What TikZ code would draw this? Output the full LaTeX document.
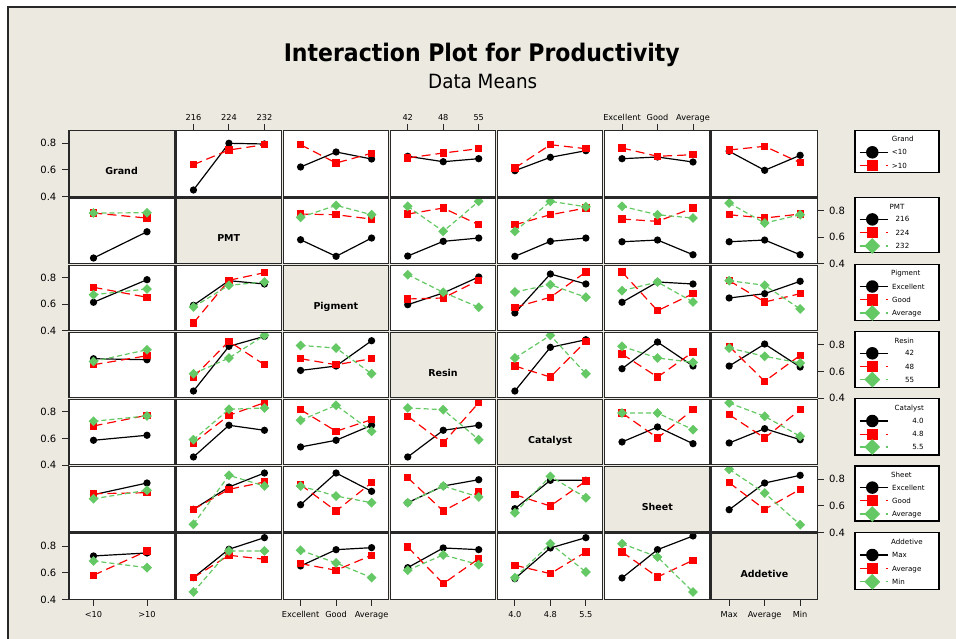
\documentclass[tikz,border=0pt]{standalone}
\usepackage{graphicx}
\usepackage{fontspec}
\setmainfont{DejaVu Sans}
\usetikzlibrary{shapes.geometric}
\definecolor{bg}{RGB}{236,233,224}
\definecolor{mred}{RGB}{255,0,0}
\definecolor{mgreen}{RGB}{100,200,100}
\definecolor{frm}{RGB}{40,40,40}

% one data series of one panel: #1 row, #2 col, #3 tag (b/r/g), #4 y offsets
\newcommand\DrawSer[4]{%
  \pgfmathsetmacro\PLx{68+107.143*(#2-1)}%
  \pgfmathsetmacro\PTy{130+67.143*(#1-1)}%
  \foreach \yy [count=\k] in {#4} {%
    \ifnum#2=1 \pgfmathsetmacro\xo{\k==1 ? 25.5 : 79}\else \pgfmathsetmacro\xo{18.3+35.5*(\k-1)}\fi
    \coordinate (p#1#2#3\k) at ({\PLx+\xo},{\PTy+\yy});
  }%
  \ifnum#2=1
    \draw[#3line] (p#1#2#31) -- (p#1#2#32);
    \foreach \k in {1,2} {\node[#3mark] (m#1#2#3\k) at (p#1#2#3\k) {};}
  \else
    \draw[#3line] (p#1#2#31) -- (p#1#2#32) -- (p#1#2#33);
    \foreach \k in {1,2,3} {\node[#3mark] (m#1#2#3\k) at (p#1#2#3\k) {};}
  \fi
}
% a data panel: #1 row, #2 col, #3 black, #4 red, #5 green
\newcommand\Panel[5]{%
  \pgfmathsetmacro\QL{68+107.143*(#2-1)+0.9}%
  \pgfmathsetmacro\QR{68+107.143*#2-0.9}%
  \pgfmathsetmacro\QT{130+67.143*(#1-1)+0.9}%
  \pgfmathsetmacro\QB{130+67.143*#1-0.9}%
  \begin{scope}
    \clip (\QL,\QT) rectangle (\QR,\QB);
    \fill[white] (\QL,\QT) rectangle (\QR,\QB);
    \DrawSer{#1}{#2}{b}{#3}
    \DrawSer{#1}{#2}{r}{#4}
    \if\relax\detokenize{#5}\relax\else\DrawSer{#1}{#2}{g}{#5}\fi
  \end{scope}
  \draw[pborder] (\QL,\QT) rectangle (\QR,\QB);
}
% a diagonal panel: #1 index, #2 name
\newcommand\Diag[2]{%
  \pgfmathsetmacro\QL{68+107.143*(#1-1)+0.9}%
  \pgfmathsetmacro\QR{68+107.143*#1-0.9}%
  \pgfmathsetmacro\QT{130+67.143*(#1-1)+0.9}%
  \pgfmathsetmacro\QB{130+67.143*#1-0.9}%
  \filldraw[pborder, fill=bg] (\QL,\QT) rectangle (\QR,\QB);
  \node[diaglab] (diag#1) at ({68+107.143*(#1-0.5)},{130+67.143*(#1-0.5)+11.2}) {#2};
}
% legend box: #1 id, #2 top, #3 height, #4 title, #5 title x
\newcommand\LegBox[5]{%
  \node[legbox, minimum height=#3] (lb#1) at (897,{#2+#3/2}) {};
  \node[legtext, anchor=base west] (lt#1) at (#5,{#2+11.7}) {#4};
}
% legend entry: #1 id, #2 k, #3 y, #4 tag, #5 text, #6 x, #7 anchor
\newcommand\LegEntry[7]{%
  \coordinate (la#1#2) at (859.7,#3);
  \coordinate (lc#1#2) at (888,#3);
  \draw[#4leg] (la#1#2) -- (lc#1#2);
  \node[#4mark, #4big] (lm#1#2) at (872.3,#3) {};
  \node[legtext, anchor=#7] (lx#1#2) at (#6,{#3+2.6}) {#5};
}

\begin{document}
\begin{tikzpicture}[x=1pt,y=-1pt,
  bmark/.style={circle, fill=black, inner sep=0pt, minimum size=7.3pt},
  rmark/.style={rectangle, fill=mred, inner sep=0pt, minimum size=7.3pt},
  gmark/.style={diamond, fill=mgreen, inner sep=0pt, minimum size=10pt},
  bbig/.style={minimum size=12.5pt},
  rbig/.style={minimum size=11.5pt},
  gbig/.style={minimum size=16pt},
  bline/.style={black, line width=1.2pt},
  rline/.style={mred, line width=1.2pt, dash pattern=on 9pt off 5pt},
  gline/.style={mgreen, line width=1.2pt, dash pattern=on 5pt off 3pt},
  bleg/.style={black, line width=1.3pt},
  rleg/.style={mred, line width=1.3pt, dash pattern=on 8pt off 18.3pt on 2pt off 5pt},
  gleg/.style={mgreen, line width=1.3pt, dash pattern=on 8pt off 18.3pt on 2pt off 5pt},
  pborder/.style={draw=frm, line width=1.2pt},
  tick/.style={draw=frm, line width=1pt},
  diaglab/.style={anchor=base, font=\fontsize{9.5}{11}\selectfont\bfseries},
  axlab/.style={anchor=base, inner sep=0pt, font=\fontsize{8.2}{10}\selectfont},
  ylab/.style={anchor=center, inner sep=0pt, font=\fontsize{10}{12}\selectfont},
  legtext/.style={inner sep=0pt, font=\fontsize{7.1}{9}\selectfont},
  legbox/.style={draw=black, fill=white, line width=1.3pt, minimum width=84pt, inner sep=0pt}
]
\useasboundingbox (0,0) rectangle (956,639);
\fill[white] (0,0) rectangle (956,639);
\fill[bg] (7,6) rectangle (956,639);
\draw[line width=2pt, frm] (8,639) -- (8,7) -- (956,7);

\node[anchor=base, inner sep=0pt] (title) at (481.8,61.7) {\resizebox{396pt}{18.4pt}{\bfseries Interaction Plot for Productivity}};
\node[anchor=base, inner sep=0pt] (subtitle) at (482.7,88.3) {\resizebox{109pt}{14.3pt}{Data Means}};

% diagonal
\Diag{1}{Grand}
\Diag{2}{PMT}
\Diag{3}{Pigment}
\Diag{4}{Resin}
\Diag{5}{Catalyst}
\Diag{6}{Sheet}
\Diag{7}{Addetive}

% row 1 Grand
\Panel{1}{2}{60,13.3,14}{34.7,20,14.7}{}
\Panel{1}{3}{37,22,29}{14.7,33,23.3}{}
\Panel{1}{4}{26.3,31.7,28.7}{28,23,18.7}{}
\Panel{1}{5}{40.7,27.3,20.7}{38,14.7,18.7}{}
\Panel{1}{6}{28.7,27,32}{18,26.3,24.7}{}
\Panel{1}{7}{21.3,40.3,25.3}{20,16.3,32.7}{}
% row 2 PMT
\Panel{2}{1}{60.9,34.6}{15.9,20.9}{15.9,15.6}
\Panel{2}{3}{42.6,59.2,40.9}{16.9,17.6,21.9}{20.2,8.2,17.6}
\Panel{2}{4}{58.9,44.2,40.9}{16.9,10.9,27.6}{9.2,34.2,4.2}
\Panel{2}{5}{59.2,44.2,40.9}{27.6,17.6,10.9}{34.2,4.2,9.6}
\Panel{2}{6}{44.6,42.9,57.6}{21.9,24.2,10.9}{9.2,17.6,20.9}
\Panel{2}{7}{44.6,42.9,57.6}{17.6,20.9,16.9}{5.9,25.9,17.6}
% row 3 Pigment
\Panel{3}{1}{38,15.4}{23,33}{30.4,24.7}
\Panel{3}{2}{41,16.4,19.7}{58.7,16,8.4}{42.7,21,17.7}
\Panel{3}{4}{40.4,28.7,12.7}{34.7,33.7,16}{10.4,28,43}
\Panel{3}{5}{48.7,9.7,19.7}{43,33,7.7}{27.7,20.4,33}
\Panel{3}{6}{38,17.7,19.7}{7.7,46.4,29.4}{26.4,17.7,37.7}
\Panel{3}{7}{33.7,29.4,17}{16.4,37.7,29.4}{16.4,21,44.7}
% row 4 Resin
\Panel{4}{1}{27.3,28.3}{33.3,24.3}{30,18.3}
\Panel{4}{2}{59.6,14.9,4.9}{45.6,9.9,33.3}{42.3,26.6,3.9}
\Panel{4}{3}{39,34.6,9.3}{27.3,33.3,27.3}{14,16.6,42.3}
\Panel{4}{5}{59.6,15.9,8.3}{34.6,45.6,9.9}{26.6,3.9,42.3}
\Panel{4}{6}{37.3,10.6,34.6}{22.6,45.6,20.6}{14.9,26.6,30.9}
\Panel{4}{7}{34.6,12.6,35.6}{14.9,49.9,23.9}{16.6,24.9,31.6}
% row 5 Catalyst
\Panel{5}{1}{41.7,36.7}{27.4,16.7}{22.7,17.4}
\Panel{5}{2}{58.4,26.7,31.7}{44.4,16.7,4.1}{41.1,10.7,9.4}
\Panel{5}{3}{48.4,41.7,26.7}{11.1,32.7,21.1}{21.7,6.7,32.7}
\Panel{5}{4}{58.4,31.7,26.7}{17.7,44.4,4.1}{9.4,11.1,41.1}
\Panel{5}{6}{43.4,28.4,45.1}{14.4,39.4,11.1}{14.4,14.4,31.1}
\Panel{5}{7}{44.4,30.1,41.1}{16.1,39.4,11.1}{4.4,17.7,37.7}
% row 6 Sheet
\Panel{6}{1}{29,17.3}{28,27}{33,24.6}
\Panel{6}{2}{43.6,21.3,7.3}{43.6,23.6,16.3}{58.6,9.6,20.3}
\Panel{6}{3}{39,7.3,25.6}{19,45.3,17}{20.3,30.3,37}
\Panel{6}{4}{37,20.3,14}{12,45.3,26.3}{37,20.3,31.3}
\Panel{6}{5}{43,14.6,14.6}{29,40.3,15.3}{47,10.6,32}
\Panel{6}{7}{44,17.3,9.6}{17,43.6,23.6}{3.6,27.3,59}
% row 7 Addetive
\Panel{7}{1}{23.1,20.1}{42.4,18.1}{28.1,34.8}
\Panel{7}{2}{44.8,16.4,4.8}{44.8,22.4,26.4}{59.1,18.1,18.1}
\Panel{7}{3}{33.1,16.8,14.8}{30.8,37.4,22.4}{17.4,30.1,44.8}
\Panel{7}{4}{34.8,15.1,16.8}{14.1,50.8,25.8}{37.4,22,31.8}
\Panel{7}{5}{45.8,15.1,4.8}{32.4,40.8,19.1}{44.8,10.8,39.1}
\Panel{7}{6}{45.1,16.8,3.1}{19.1,44.1,27.4}{10.8,24.1,59.1}

% left axes
\foreach \r in {1,3,5,7} {
  \foreach \v/\o [count=\i] in {0.8/13.3,0.6/40,0.4/66.7} {
    \draw[tick] (62,{130+67.143*(\r-1)+\o}) -- (68.5,{130+67.143*(\r-1)+\o});
    \node[ylab] (yl\r-\i) at (48.4,{130+67.143*(\r-1)+\o}) {\v};
  }
}
% right axes
\foreach \r in {2,4,6} {
  \foreach \v/\o [count=\i] in {0.8/13.3,0.6/40,0.4/66.7} {
    \draw[tick] (817.5,{130+67.143*(\r-1)+\o}) -- (824,{130+67.143*(\r-1)+\o});
    \node[ylab] (yr\r-\i) at (837,{130+67.143*(\r-1)+\o}) {\v};
  }
}
% top axes
\foreach \c/\la/\lb/\lc in {2/216/224/232, 4/42/48/55, 6/Excellent/Good/Average} {
  \foreach \t [count=\i] in {\la,\lb,\lc} {
    \draw[tick] ({68+107.143*(\c-1)+18.3+35.5*(\i-1)},124.5) -- ({68+107.143*(\c-1)+18.3+35.5*(\i-1)},130.5);
    \node[axlab] (xt\c-\i) at ({68+107.143*(\c-1)+18.3+35.5*(\i-1)},121) {\t};
  }
}
% bottom axes
\foreach \t/\x [count=\i] in {{<10}/93.5, {>10}/147} {
  \draw[tick] (\x,599.5) -- (\x,606);
  \node[axlab] (xb1-\i) at (\x,617.7) {\t};
}
\foreach \c/\la/\lb/\lc in {3/Excellent/Good/Average, 5/4.0/4.8/5.5, 7/Max/Average/Min} {
  \foreach \t [count=\i] in {\la,\lb,\lc} {
    \draw[tick] ({68+107.143*(\c-1)+18.3+35.5*(\i-1)},599.5) -- ({68+107.143*(\c-1)+18.3+35.5*(\i-1)},606);
    \node[axlab] (xb\c-\i) at ({68+107.143*(\c-1)+18.3+35.5*(\i-1)},617.7) {\t};
  }
}

% legends
\LegBox{1}{130.3}{42.5}{Grand}{891.7}
\LegEntry{1}{1}{152.3}{b}{<10}{891.7}{base west}
\LegEntry{1}{2}{165.6}{r}{>10}{891.7}{base west}

\LegBox{2}{197.4}{55.3}{PMT}{889.5}
\LegEntry{2}{1}{219.4}{b}{216}{902.5}{base}
\LegEntry{2}{2}{232.7}{r}{224}{902.5}{base}
\LegEntry{2}{3}{246}{g}{232}{902.5}{base}

\LegBox{3}{264.3}{56}{Pigment}{891}
\LegEntry{3}{1}{286.5}{b}{Excellent}{892}{base west}
\LegEntry{3}{2}{299.8}{r}{Good}{892}{base west}
\LegEntry{3}{3}{313}{g}{Average}{892}{base west}

\LegBox{4}{331.7}{55.5}{Resin}{894.5}
\LegEntry{4}{1}{353.3}{b}{42}{909.7}{base}
\LegEntry{4}{2}{366.5}{r}{48}{909.7}{base}
\LegEntry{4}{3}{379.6}{g}{55}{909.7}{base}

\LegBox{5}{398.4}{56.6}{Catalyst}{894.5}
\LegEntry{5}{1}{421}{b}{4.0}{918}{base}
\LegEntry{5}{2}{434.3}{r}{4.8}{918}{base}
\LegEntry{5}{3}{447}{g}{5.5}{918}{base}

\LegBox{6}{466}{55}{Sheet}{891}
\LegEntry{6}{1}{487.6}{b}{Excellent}{892}{base west}
\LegEntry{6}{2}{500.6}{r}{Good}{892}{base west}
\LegEntry{6}{3}{514}{g}{Average}{892}{base west}

\LegBox{7}{532.8}{56.5}{Addetive}{891}
\LegEntry{7}{1}{555}{b}{Max}{892}{base west}
\LegEntry{7}{2}{568.4}{r}{Average}{892}{base west}
\LegEntry{7}{3}{581.8}{g}{Min}{892}{base west}
\end{tikzpicture}
\end{document}
